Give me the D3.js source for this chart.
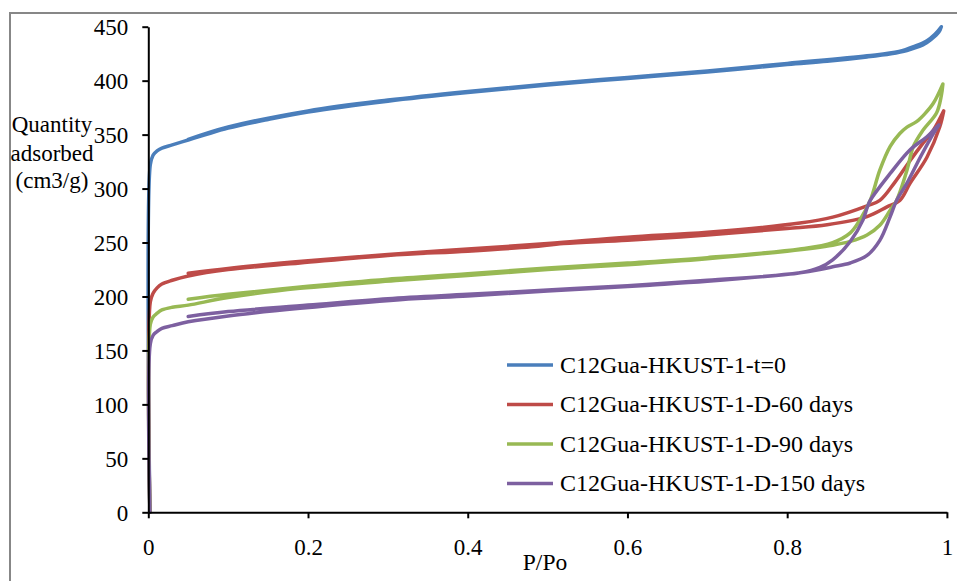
<!DOCTYPE html>
<html>
<head>
<meta charset="utf-8">
<script src="https://cdn.jsdelivr.net/npm/d3@7/dist/d3.min.js"></script>
<style>
  html, body { margin: 0; padding: 0; background: #fff; }
  svg { display: block; }
  text { font-family: "Liberation Serif", "Times New Roman", serif; fill: #000; }
</style>
</head>
<body>
<script>
// Nitrogen isotherms: adsorption branch then desorption branch per sample
const seriesNames = [
  "C12Gua-HKUST-1-t=0",
  "C12Gua-HKUST-1-D-60 days",
  "C12Gua-HKUST-1-D-90 days",
  "C12Gua-HKUST-1-D-150 days"
];
const seriesColors = ["#4A7EBB", "#BE4B48", "#98B954", "#7D60A0"];

const t0AdsP = [0.002, 0.0025, 0.006, 0.011, 0.017, 0.03, 0.05, 0.07, 0.1, 0.15, 0.2, 0.3, 0.4, 0.5, 0.6, 0.7, 0.8, 0.85, 0.9, 0.93, 0.95, 0.97, 0.98, 0.99, 0.993];
const t0AdsV = [0, 322, 331, 335, 337.5, 340.5, 345, 349.5, 356, 364, 371, 381, 389, 396, 402, 408, 415, 418, 422, 425, 428, 433, 438, 445, 450];
const t0DesP = [0.993, 0.985, 0.975, 0.96, 0.94, 0.9, 0.8, 0.7, 0.6, 0.5, 0.4, 0.3, 0.2, 0.1, 0.05];
const t0DesV = [450, 443, 437, 432, 427, 423, 416, 409, 403, 397, 390, 382, 372, 357, 345.5];

const d60AdsP = [0.002, 0.0025, 0.006, 0.011, 0.017, 0.03, 0.05, 0.1, 0.19, 0.3, 0.4, 0.48, 0.52, 0.6, 0.7, 0.8, 0.85, 0.9, 0.925, 0.941, 0.954, 0.975, 0.991, 0.996];
const d60AdsV = [0, 195, 203, 208, 211.5, 215, 219, 225, 231, 238, 242, 246, 249, 252, 257, 263, 266.5, 274, 283, 289, 305, 329, 357, 372];
const d60DesP = [0.996, 0.983, 0.968, 0.954, 0.935, 0.916, 0.9, 0.857, 0.816, 0.7, 0.6, 0.5, 0.4, 0.3, 0.2, 0.1, 0.05];
const d60DesV = [372, 354, 340, 326, 306, 289, 284, 273.5, 268, 259.5, 255, 249, 244, 239, 233, 226, 221.5];

const d90AdsP = [0.002, 0.0025, 0.006, 0.011, 0.017, 0.03, 0.05, 0.1, 0.19, 0.315, 0.4, 0.5, 0.6, 0.7, 0.8, 0.857, 0.879, 0.9, 0.916, 0.929, 0.937, 0.95, 0.958, 0.97, 0.987, 0.993, 0.995];
const d90AdsV = [0, 174, 181, 184.5, 187.5, 190, 192, 199, 207.5, 215, 219.5, 225, 229.5, 235, 242, 247.5, 251, 257, 266, 280, 289, 317, 339, 354, 370, 386, 397];
const d90DesP = [0.995, 0.983, 0.972, 0.962, 0.95, 0.941, 0.929, 0.916, 0.904, 0.891, 0.879, 0.857, 0.816, 0.7, 0.6, 0.5, 0.4, 0.3, 0.2, 0.1, 0.05];
const d90DesV = [397, 379, 369, 362, 357, 351, 339, 317, 289, 271, 259, 250, 244, 236, 231, 226.5, 221, 216, 209.5, 202, 197.5];

const d150AdsP = [0.002, 0.0025, 0.006, 0.011, 0.017, 0.03, 0.05, 0.1, 0.19, 0.315, 0.4, 0.5, 0.628, 0.7, 0.816, 0.841, 0.857, 0.879, 0.9, 0.916, 0.929, 0.937, 0.95, 0.967, 0.983, 0.99];
const d150AdsV = [0, 156, 164, 167.5, 170.5, 173, 176.5, 182, 189, 197, 200.5, 205, 210.5, 214, 222, 225, 227.5, 231, 238, 252, 274, 289, 305, 329.5, 351, 359];
const d150DesP = [0.99, 0.987, 0.975, 0.954, 0.929, 0.904, 0.9, 0.895, 0.879, 0.857, 0.841, 0.816, 0.7, 0.6, 0.5, 0.4, 0.3, 0.2, 0.1, 0.05];
const d150DesV = [359, 357, 348, 336, 314, 289, 282, 271, 251, 234, 227, 222, 215, 210, 206, 202, 198, 192, 186, 181.5];

const xTickValues = [0, 0.2, 0.4, 0.6, 0.8, 1];
const xTickLabels = ["0", "0.2", "0.4", "0.6", "0.8", "1"];
const yTickValues = [0, 50, 100, 150, 200, 250, 300, 350, 400, 450];
const yTickLabels = ["0", "50", "100", "150", "200", "250", "300", "350", "400", "450"];

const pairs = (ps, vs) => ps.map((p, i) => [p, vs[i]]);
const series = [
  { name: seriesNames[0], color: seriesColors[0], pts: pairs(t0AdsP, t0AdsV).concat(pairs(t0DesP, t0DesV)) },
  { name: seriesNames[1], color: seriesColors[1], pts: pairs(d60AdsP, d60AdsV).concat(pairs(d60DesP, d60DesV)) },
  { name: seriesNames[2], color: seriesColors[2], pts: pairs(d90AdsP, d90AdsV).concat(pairs(d90DesP, d90DesV)) },
  { name: seriesNames[3], color: seriesColors[3], pts: pairs(d150AdsP, d150AdsV).concat(pairs(d150DesP, d150DesV)) }
];

const W = 957, H = 581;
const svg = d3.select("body").append("svg").attr("width", W).attr("height", H);

// chart frame
svg.append("rect").attr("x", 10).attr("y", 13).attr("width", 1000).attr("height", 1000)
  .attr("fill", "#fff").attr("stroke", "#878787").attr("stroke-width", 2);

const x = d3.scaleLinear().domain([0, 1]).range([148.3, 946.9]);
const y = d3.scaleLinear().domain([0, 450]).range([512.3, 26.7]);

// series
const line = d3.line().x(d => x(d[0])).y(d => y(d[1])).curve(d3.curveCatmullRom.alpha(0.5));
svg.append("g").selectAll("path").data(series).join("path")
  .attr("d", d => line(d.pts))
  .attr("fill", "none")
  .attr("stroke", d => d.color)
  .attr("stroke-width", 3.5)
  .attr("stroke-linejoin", "round")
  .attr("stroke-linecap", "round");

// axes
const yAxis = d3.axisLeft(y).tickValues(yTickValues)
  .tickFormat((d, i) => yTickLabels[i]).tickSizeInner(6).tickSizeOuter(0).tickPadding(14);
const gy = svg.append("g").attr("transform", `translate(${x(0)},0)`).call(yAxis);

const xAxis = d3.axisBottom(x).tickValues(xTickValues)
  .tickFormat((d, i) => xTickLabels[i]).tickSizeInner(6).tickSizeOuter(0).tickPadding(20);
const gx = svg.append("g").attr("transform", `translate(0,${y(0)})`).call(xAxis);

[gx, gy].forEach(g => {
  g.select(".domain").attr("stroke", "#000").attr("stroke-width", 2);
  g.selectAll(".tick line").attr("stroke", "#000").attr("stroke-width", 2);
  g.selectAll(".tick text").attr("fill", "#000")
    .style("font-family", "'Liberation Serif', 'Times New Roman', serif")
    .style("font-size", "23px");
});
gy.selectAll(".tick text").attr("dy", "0.34em");

// axis titles
const yTitle = svg.append("text").attr("text-anchor", "middle").style("font-size", "23px");
[["Quantity", 132], ["adsorbed", 161], ["(cm3/g)", 188]].forEach(([t, by]) => {
  yTitle.append("tspan").attr("x", 52).attr("y", by).text(t);
});
svg.append("text").attr("x", 545).attr("y", 570).attr("text-anchor", "middle")
  .style("font-size", "23.5px").text("P/Po");

// legend
const legend = svg.append("g");
const legendY = d3.scalePoint().domain(seriesNames).range([365, 483.5]);
series.forEach(s => {
  const ly = legendY(s.name);
  legend.append("line").attr("x1", 507).attr("x2", 553).attr("y1", ly).attr("y2", ly)
    .attr("stroke", s.color).attr("stroke-width", 3.5);
  legend.append("text").attr("x", 560).attr("y", ly).attr("dy", "0.33em")
    .style("font-size", "24px").text(s.name);
});
</script>
</body>
</html>
